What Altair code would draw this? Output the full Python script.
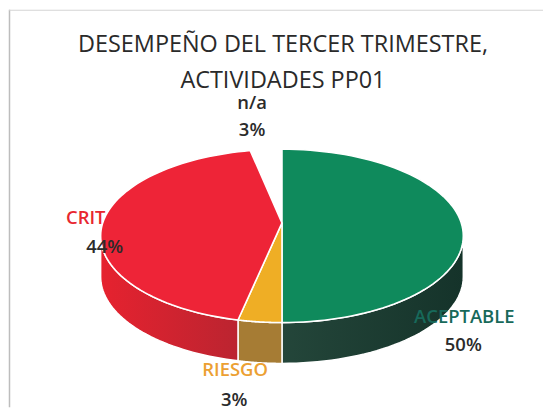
import math
import altair as alt

categories = ["ACEPTABLE", "RIESGO", "CRITICO", "n/a"]
# slice sizes as drawn in the picture (its printed labels are rounded differently)
shares = [50, 3.9, 43.3, 2.8]
top_colors = ["#0f8a5c", "#efae25", "#ee2437", "#ffffff"]
side_left = ["#15332a", "#a67c34", "#e6222f", "#ffffff"]
side_right = ["#24463a", "#a67c34", "#bb2430", "#ffffff"]
title_lines = ["DESEMPEÑO DEL TERCER TRIMESTRE,", "ACTIVIDADES PP01"]
label_text = ["ACEPTABLE", "50%", "RIESGO", "3%", "CRIT", "44%", "n/a", "3%"]
label_colors = ["#17695a", "#2b2b2b", "#eca032", "#2b2b2b", "#e8262f", "#2b2b2b", "#2b2b2b", "#2b2b2b"]
label_x = [457, 456, 227, 226, 77, 96, 244, 244]
label_y = [308, 337, 362, 392, 209, 238, 94, 121]
title_y = [35, 72]

W, H = 552, 415
CX, CY, RX, RY, DEPTH = 274, 227, 182, 87, 41
APEX_Y = 214


def poly(points):
    return {"type": "Feature", "geometry": {"type": "Polygon", "coordinates": [points]}, "properties": {}}


def pt(a, dy=0):
    return [CX + RX * math.sin(a), CY - RY * math.cos(a) + dy]


starts, t = [], 0.0
for s in shares:
    starts.append(t)
    t += s
angles = [(starts[i] / 100 * 2 * math.pi, (starts[i] + shares[i]) / 100 * 2 * math.pi) for i in range(len(shares))]


def shape(feature, fill, stroke="#ffffff", sw=1.0):
    return alt.Chart(alt.Data(values=[feature])).mark_geoshape(fill=fill, stroke=stroke, strokeWidth=sw).project(
        type="identity", scale=1, translate=[0, 0]
    )


layers = []

# thin frame of the scanned chart
layers.append(alt.Chart(alt.Data(values=[{"a": 0}])).mark_rule(color="#bdbdbd", strokeWidth=1.5).encode(
    x=alt.value(0.5), y=alt.value(0), y2=alt.value(H - 16)))
layers.append(alt.Chart(alt.Data(values=[{"a": 0}])).mark_rule(color="#d4d4d4", strokeWidth=1).encode(
    x=alt.value(0), x2=alt.value(W - 16), y=alt.value(0.5)))

# wall sections (only the front half of the rim is visible)
for i, (a0, a1) in enumerate(angles):
    lo, hi = max(a0, math.pi / 2), min(a1, 3 * math.pi / 2)
    if hi <= lo or categories[i] == "n/a":
        continue
    n = 40
    arc = [lo + (hi - lo) * k / n for k in range(n + 1)]
    pts = [pt(a) for a in arc] + [pt(a, DEPTH) for a in reversed(arc)]
    pts.append(pts[0])
    grad = alt.LinearGradient(
        gradient="linear", x1=1, x2=0, y1=0, y2=0,
        stops=[alt.GradientStop(color=side_right[i], offset=0), alt.GradientStop(color=side_left[i], offset=1)],
    ) if i == 2 else alt.LinearGradient(
        gradient="linear", x1=0, x2=1, y1=0, y2=0,
        stops=[alt.GradientStop(color=side_right[i], offset=0), alt.GradientStop(color=side_left[i], offset=1)],
    )
    layers.append(shape(poly(pts), grad, sw=1.5))

# top faces
for i, (a0, a1) in enumerate(angles):
    if categories[i] == "n/a":
        continue
    n = 80
    pts = [[CX, APEX_Y]] + [pt(a0 + (a1 - a0) * k / n) for k in range(n + 1)] + [[CX, APEX_Y]]
    layers.append(shape(poly(pts), top_colors[i], sw=1.6))

texts = []
for tx, ty in zip(title_lines, title_y):
    texts.append(
        alt.Chart(alt.Data(values=[{"t": tx}])).mark_text(
            font="Open Sans", fontSize=23.5, color="#2a2a2a", align="center", baseline="middle"
        ).encode(text="t:N", x=alt.value(275), y=alt.value(ty))
    )
for tx, c, lx, ly in zip(label_text, label_colors, label_x, label_y):
    texts.append(
        alt.Chart(alt.Data(values=[{"t": tx}])).mark_text(
            font="Open Sans", fontSize=18.5, color=c, fontWeight=600, align="center", baseline="middle"
        ).encode(text="t:N", x=alt.value(lx), y=alt.value(ly))
    )

chart = alt.layer(*layers, *texts).properties(
    width=W - 16, height=H - 16, padding=0, background="#ffffff"
).configure_view(stroke=None)
chart.save("out.html", embed_options={"renderer": "svg", "actions": False})
